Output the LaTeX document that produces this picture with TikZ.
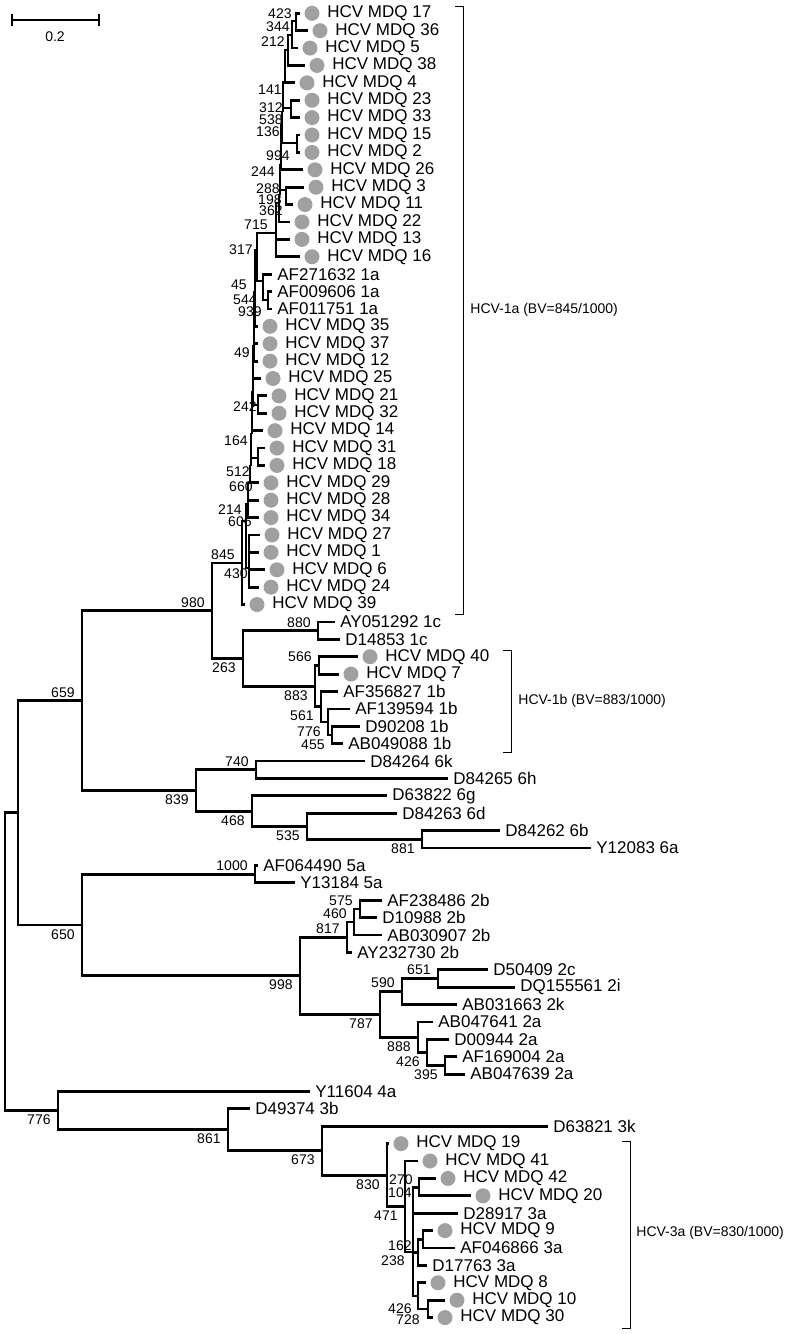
\documentclass[tikz,border=0pt]{standalone}
\usepackage{fontspec}
\setmainfont{Liberation Sans}
\usepackage{xcolor}
\definecolor{dotgray}{HTML}{A0A0A0}
\usetikzlibrary{calc}
\tikzset{
  branch/.style  ={draw=black,line width=1.4pt},
  leaf/.style    ={anchor=west,font=\fontsize{8.5}{10}\selectfont,inner sep=0pt},
  dot/.style     ={circle,fill=dotgray,minimum size=7.5pt,inner sep=0pt},
  bsup/.style    ={anchor=south east,font=\fontsize{7}{8}\selectfont,inner sep=0pt,
                   xshift=-3.5pt,yshift=1.5pt},
  bsdn/.style    ={anchor=north east,font=\fontsize{7}{8}\selectfont,inner sep=0pt,
                   xshift=-3.5pt,yshift=-2pt},
  bsat/.style    ={anchor=east,font=\fontsize{7}{8}\selectfont,inner sep=0pt},
  clade/.style   ={draw=black,line width=0.5pt},
  cladelbl/.style={anchor=west,font=\fontsize{7}{8}\selectfont,inner sep=0pt},
}

\begin{document}
\begin{tikzpicture}[x=0.5pt,y=-0.5pt]
\useasboundingbox (0,0) rectangle (789,1334);
% scale bar
\draw[line width=1pt] (12,20) -- (99,20);
\draw[line width=1pt] (12,14) -- (12,26) (99,14) -- (99,26);
\node[font=\fontsize{7}{8}\selectfont] (scl) at (55,37) {0.2};
% reference sequences
\foreach \i/\tx/\name in {16/272/AF271632 1a,17/272/AF009606 1a,18/272/AF011751 1a,
    36/335/AY051292 1c,37/340/D14853 1c,40/338/AF356827 1b,41/350/AF139594 1b,
    42/360/D90208 1b,43/343/AB049088 1b,44/365/D84264 6k,45/448/D84265 6h,
    46/387/D63822 6g,47/397/D84263 6d,48/500/D84262 6b,49/591/Y12083 6a,
    50/258/AF064490 5a,51/295/Y13184 5a,52/382/AF238486 2b,53/377/D10988 2b,
    54/382/AB030907 2b,55/352/AY232730 2b,56/488/D50409 2c,57/515/DQ155561 2i,
    58/457/AB031663 2k,59/433/AB047641 2a,60/449/D00944 2a,61/457/AF169004 2a,
    62/465/AB047639 2a,63/310/Y11604 4a,64/250/D49374 3b,65/548/D63821 3k,
    70/458/D28917 3a,72/455/AF046866 3a,73/427/D17763 3a}{
  \coordinate (r\i) at (\tx,{17.39*\i-4.09});
  \node[leaf] (t\i) at ([xshift=2.5pt]r\i) {\name};
}
% patient isolates (grey dots)
\foreach \i/\cx/\num in {1/312/17,2/320/36,3/310/5,4/317/38,5/307/4,6/312/23,7/312/33,
    8/312/15,9/312/2,10/315/26,11/316/3,12/305/11,13/302/22,14/302/13,15/312/16,
    19/270/35,20/270/37,21/270/12,22/273/25,23/279/21,24/279/32,25/275/14,26/277/31,
    27/277/18,28/271/29,29/271/28,30/271/34,31/272/27,32/271/1,33/277/6,34/271/24,
    35/257/39,38/370/40,39/351/7,66/401/19,67/430/41,68/448/42,69/483/20,71/445/9,
    74/438/8,75/457/10,76/445/30}{
  \coordinate (r\i) at ({\cx-12},{17.39*\i-4.09});
  \node[dot] (d\i) at (\cx,{17.39*\i-4.09}) {};
  \node[leaf] (t\i) at ({\cx+15},{17.39*\i-4.09}) {HCV MDQ \num};
}
% internal nodes
\coordinate (n423) at (296,21);    \coordinate (n344) at (292,35);
\coordinate (n212) at (288,50);    \coordinate (n141) at (285,82);
\coordinate (n312) at (291,108);   \coordinate (n538) at (283,112);
\coordinate (n994) at (297,143);   \coordinate (n136) at (282,125);
\coordinate (n244) at (281,165);   \coordinate (n288) at (286,190);
\coordinate (n198) at (280,195);   \coordinate (n362) at (279,203);
\coordinate (n715) at (276,233);   \coordinate (n939) at (268,300);
\coordinate (n45) at (263,281);    \coordinate (n317) at (257,250);
\coordinate (n544) at (255,292);   \coordinate (n49) at (254,346);
\coordinate (n242s) at (258,405);  \coordinate (n242) at (253,392);
\coordinate (n164) at (252,434);   \coordinate (n512s) at (258,458);
\coordinate (n512) at (251,466);   \coordinate (n660) at (250,483);
\coordinate (n214) at (248,504);   \coordinate (n430) at (249,568);
\coordinate (n606) at (246,521);   \coordinate (n845) at (242,563);
\coordinate (n880) at (318,630.7); \coordinate (n566) at (319,665.4);
\coordinate (n455) at (332,735);   \coordinate (n776b) at (328,722);
\coordinate (n561) at (321,706.8); \coordinate (n883) at (315,686.1);
\coordinate (n263) at (243,658.4); \coordinate (n980) at (212,610.7);
\coordinate (n740) at (256,769.8); \coordinate (n881) at (422,839.3);
\coordinate (n535) at (307,826.3); \coordinate (n468) at (252,811.1);
\coordinate (n839) at (196,790.5); \coordinate (n659) at (82,700.6);
\coordinate (n1000) at (255,874.1);\coordinate (n575) at (360,908.9);
\coordinate (n460) at (354,922);   \coordinate (n817) at (347,937.2);
\coordinate (n651) at (438,978.5); \coordinate (n590) at (402,991.5);
\coordinate (n395) at (445,1065.4);\coordinate (n426a) at (427,1052.4);
\coordinate (n888) at (418,1037.1);\coordinate (n787) at (380,1014.3);
\coordinate (n998) at (300,975.8); \coordinate (n650) at (82,925);
\coordinate (nA) at (18,812.8);
\coordinate (n104) at (419,1187.1);\coordinate (n270) at (413,1200);
\coordinate (n162s) at (423,1239.3);\coordinate (n162) at (418,1252.4);
\coordinate (n728) at (428,1308.9);\coordinate (n426c) at (418,1295.9);
\coordinate (n238) at (413,1252);  \coordinate (n471) at (405,1206.5);
\coordinate (n830) at (387,1175.1);\coordinate (n673) at (322,1150.7);
\coordinate (n861) at (228,1129.8);\coordinate (n776) at (58,1110.7);
\coordinate (nroot) at (5,961.8);
% bootstrap values
\foreach \n/\v in {n659/659,n980/980,n845/845,n880/880,n566/566,n740/740,
    n1000/1000,n575/575,n460/460,n817/817,n651/651,n590/590}
  \node[bsup] (l\n) at (\n) {\v};
\foreach \n/\v in {n839/839,n650/650,n263/263,n883/883,n561/561,n776b/776,
    n455/455,n468/468,n535/535,n881/881,n998/998,n787/787,n888/888,n426a/426,
    n395/395,n776/776,n861/861,n673/673,n830/830,n471/471}
  \node[bsdn] (l\n) at (\n) {\v};
\foreach \x/\y/\v in {292/13.5/423,290/27/344,285/42/212,282/90/141,283/108/312,
    283/120/538,280/132/136,290/156/994,275/172/244,280/189/288,282/200/198,
    283/211/362,268/225/715,253/250/317,247/285/45,257/300/544,262/312/939,
    250/353/49,257/407/242,248/441/164,250/472/512,253/487/660,242/510/214,
    252/522/606,248/574/430,413/1180/270,412/1193/104,412/1246/162,
    405/1261/238,412/1309/426,420/1320/728}
  \node[bsat] (m\v) at (\x,\y) {\v};
% branches
\foreach \p/\c in {n423/r1,n423/r2,n344/n423,n344/r3,n212/n344,n212/r4,
    n141/n212,n141/r5,n312/r6,n312/r7,n538/n141,n538/n312,n994/r8,n994/r9,
    n136/n538,n136/n994,n244/n136,n244/r10,n288/r11,n288/r12,n198/n244,
    n198/n288,n362/n198,n362/r13,n715/n362,n715/r14,n715/r15,
    n939/r17,n939/r18,n45/r16,n45/n939,n317/n715,n317/n45,n544/n317,n544/r19,
    n49/n544,n49/r20,n49/r21,n242s/r23,n242s/r24,n242/n49,n242/r22,n242/n242s,
    n164/n242,n164/r25,n512s/r26,n512s/r27,n512/n164,n512/n512s,n660/n512,
    n660/r28,n214/n660,n214/r29,n214/r30,n430/r31,n430/r32,n430/r33,n430/r34,
    n606/n214,n606/n430,n845/n606,n845/r35,
    n880/r36,n880/r37,n566/r38,n566/r39,n455/r42,n455/r43,n776b/r41,n776b/n455,
    n561/r40,n561/n776b,n883/n566,n883/n561,n263/n880,n263/n883,
    n980/n845,n980/n263,
    n740/r44,n740/r45,n881/r48,n881/r49,n535/r47,n535/n881,n468/r46,n468/n535,
    n839/n740,n839/n468,n659/n980,n659/n839,
    n1000/r50,n1000/r51,n575/r52,n575/r53,n460/n575,n460/r54,n817/n460,n817/r55,
    n651/r56,n651/r57,n590/n651,n590/r58,n395/r61,n395/r62,n426a/r60,n426a/n395,
    n888/r59,n888/n426a,n787/n590,n787/n888,n998/n817,n998/n787,
    n650/n1000,n650/n998,nA/n659,nA/n650,
    n104/r68,n104/r69,n270/n104,n270/r70,n162s/r71,n162s/r72,n162/n162s,
    n162/r73,n728/r75,n728/r76,n426c/r74,n426c/n728,n238/n270,n238/n162,
    n238/n426c,n471/r67,n471/n238,n830/r66,n830/n471,n673/r65,n673/n830,
    n861/r64,n861/n673,n776/r63,n776/n861,nroot/nA,nroot/n776}
  \draw[branch] (\p) |- (\c);
% clade brackets
\draw[clade] (455,6) -- (463,6) -- (463,614) -- (455,614);
\node[cladelbl] (c1a) at (470,310) {HCV-1a (BV=845/1000)};
\draw[clade] (503,650) -- (511,650) -- (511,752) -- (503,752);
\node[cladelbl] (c1b) at (518,701) {HCV-1b (BV=883/1000)};
\draw[clade] (622,1141) -- (630,1141) -- (630,1328) -- (622,1328);
\node[cladelbl] (c3a) at (636,1233) {HCV-3a (BV=830/1000)};
\end{tikzpicture}
\end{document}
